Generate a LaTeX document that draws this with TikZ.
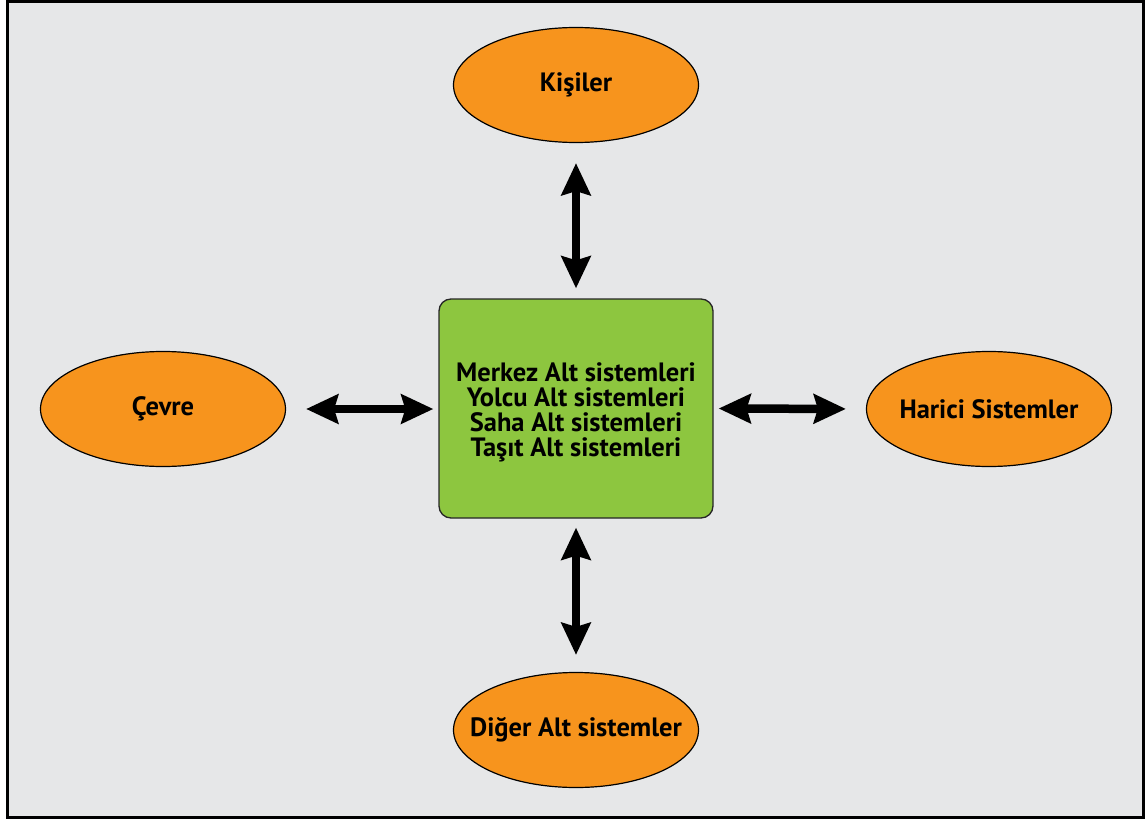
\documentclass[tikz,border=0pt]{standalone}
\usepackage{fontspec}
\setmainfont{PT Sans}
\usetikzlibrary{shapes.geometric,arrows.meta}
\definecolor{bgGray}{HTML}{E6E7E8}
\definecolor{ovalOrange}{HTML}{F7941D}
\definecolor{coreGreen}{HTML}{8DC63F}
\newcommand{\ovaltext}[1]{\makebox[0pt]{#1}}
\tikzset{
  oval/.style={ellipse, draw=black, line width=1.2bp, fill=ovalOrange,
    minimum width=245bp, minimum height=115bp, inner sep=0pt,
    font=\fontsize{26.5bp}{26bp}\selectfont\bfseries},
  corebox/.style={draw=black!85, line width=1.3bp, fill=coreGreen,
    rounded corners=12bp, minimum width=274bp, minimum height=219bp,
    inner sep=0pt},
  corelabel/.style={font=\fontsize{26.5bp}{25bp}\selectfont\bfseries,
    align=center, inner sep=0pt},
  link/.style={line width=8.5bp, black,
    {Stealth[length=32bp,width=29bp,inset=4bp]}-{Stealth[length=32bp,width=29bp,inset=4bp]}}
}
\begin{document}
\begin{tikzpicture}[x=1bp,y=-1bp]
  \useasboundingbox (0,0) rectangle (1148,821);
  % panel
  \draw[line width=3bp, fill=bgGray] (7.5,1.5) rectangle (1143.5,817.5);

  % central subsystem block
  \node[corebox] (core) at (576,408.5) {};
  \node[corelabel] (corelines) at (576,412)
    {Merkez Alt sistemleri\\Yolcu Alt sistemleri\\Saha Alt sistemleri\\Taşıt Alt sistemleri};

  % surrounding actors
  \node[oval] (kisiler) at (576,85)  {\ovaltext{Kişiler}};
  \node[oval] (cevre)   at (163,409) {\ovaltext{Çevre}};
  \node[oval] (harici)  at (989,409) {\ovaltext{Harici Sistemler}};
  \node[oval] (diger)   at (576,730) {\ovaltext{Diğer Alt sistemler}};

  % two-way links
  \draw[link, shorten <=20bp, shorten >=10bp] (kisiler.south) -- (kisiler.south |- core.north);
  \draw[link, shorten <=9bp, shorten >=17bp] (core.south) -- (diger.north);
  \draw[link, shorten <=20bp, shorten >=5bp] (cevre.east) -- (cevre.east -| core.west);
  \draw[link, shorten <=5bp, shorten >=20bp] (core.east) -- (harici.west);
\end{tikzpicture}
\end{document}
